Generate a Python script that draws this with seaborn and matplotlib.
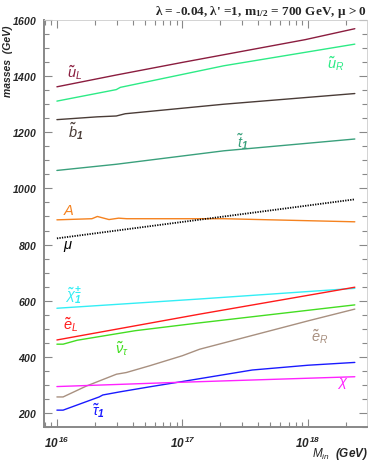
import matplotlib
matplotlib.use("Agg")
import matplotlib.pyplot as plt
import matplotlib.ticker as mticker
import numpy as np
import pandas as pd
import seaborn as sns

# M_in (GeV) and masses (GeV)
m_uL = [1.0e16, 2.97e16, 1.0e17, 9.5e17, 2.36e18]
uL = [1362, 1404, 1449, 1530, 1569]

m_uR = [1.0e16, 2.97e16, 3.2e16, 2.14e17, 2.36e18]
uR = [1311, 1352, 1360, 1437, 1514]

m_b1 = [1.0e16, 2.1e16, 2.97e16, 3.5e16, 2.14e17, 2.36e18]
b1 = [1245, 1255, 1258, 1266, 1300, 1338]

m_t1 = [1.0e16, 2.97e16, 2.14e17, 2.36e18]
t1 = [1064, 1086, 1134, 1176]

m_A = [1.0e16, 1.9e16, 2.1e16, 2.6e16, 3.1e16, 3.6e16, 1.0e17, 2.14e17, 2.36e18]
A = [888, 892, 900, 889, 894, 892, 892, 892, 881]

m_mu = [1.0e16, 2.36e18]
mu = [822, 961]

m_chpm = [1.0e16, 1.37e17, 2.36e18]
chpm = [573, 606, 644]

m_eL = [1.0e16, 1.37e17, 2.36e18]
eL = [460, 552, 648]

m_nu = [1.0e16, 1.12e16, 1.45e16, 4.2e16, 1.37e17, 2.36e18]
nu = [445, 445, 459, 493, 521, 585]

m_eR = [1.0e16, 1.12e16, 1.72e16, 2.98e16, 3.57e16, 5.47e16, 1.0e17, 1.37e17, 1.02e18, 2.36e18]
eR = [257, 257, 296, 338, 344, 368, 404, 427, 529, 570]

m_tau = [1.0e16, 1.12e16, 2.17e16, 2.32e16, 3.16e16, 5.47e16, 1.0e17, 3.6e17, 1.0e18, 2.36e18]
tau = [210, 210, 257, 264, 275, 293, 312, 353, 370, 380]

m_chi = [1.0e16, 7.9e16, 2.36e18]
chi = [294, 308, 329]

curves = [
    (m_uL, uL, "#8b1d3f", r"$\tilde{u}_L$", 1.2e16, 1414),
    (m_uR, uR, "#2deb86", r"$\tilde{u}_R$", 1.42e18, 1446),
    (m_b1, b1, "#4a3c37", r"$\tilde{b}_1$", 1.22e16, 1204),
    (m_t1, t1, "#3aa07c", r"$\tilde{t}_1$", 2.7e17, 1168),
    (m_A, A, "#f5821f", r"$A$", 1.12e16, 918),
    (m_mu, mu, "black", r"$\mu$", 1.12e16, 793),
    (m_chpm, chpm, "#33eef5", r"$\tilde{\chi}^{\pm}_{1}$", 1.15e16, 614),
    (m_eL, eL, "#ff1a1a", r"$\tilde{e}_L$", 1.12e16, 514),
    (m_nu, nu, "#44dd22", r"$\tilde{\nu}_\tau$", 2.9e16, 429),
    (m_eR, eR, "#a89080", r"$\tilde{e}_R$", 1.05e18, 471),
    (m_tau, tau, "#1a1aff", r"$\tilde{\tau}_1$", 1.9e16, 207),
    (m_chi, chi, "#ff22ff", r"$\chi$", 1.7e18, 304),
]

sns.set_style("ticks")
plt.rcParams["font.family"] = ["Liberation Sans", "DejaVu Sans"]
plt.rcParams["mathtext.fontset"] = "custom"
plt.rcParams["mathtext.rm"] = "Liberation Sans:bold:italic"
plt.rcParams["mathtext.it"] = "Liberation Sans:italic"
plt.rcParams["mathtext.bf"] = "Liberation Serif:bold"

fig = plt.figure(figsize=(3.69, 4.63), dpi=100)
ax = fig.add_axes([0.1192, 0.0778, 0.8754, 0.879])

for xs, ys, col, lab, lx, ly in curves:
    df = pd.DataFrame({"M": xs, "mass": ys})
    if lab == r"$\mu$":
        sns.lineplot(data=df, x="M", y="mass", ax=ax, color=col, lw=1.3,
                     linestyle=(0, (0.7, 0.7)), sort=False)
    else:
        sns.lineplot(data=df, x="M", y="mass", ax=ax, color=col, lw=1.0, sort=False)
    ax.text(lx, ly, lab, color=col, fontsize=10.5, ha="left", va="center")

ax.set_xscale("log")
ax.set_xlim(10 ** 15.897, 10 ** 18.47)
ax.set_ylim(150, 1600)

ax.xaxis.set_major_locator(mticker.FixedLocator([1e16, 1e17, 1e18]))
ax.xaxis.set_major_formatter(mticker.FuncFormatter(lambda v, p: r"$10^{\,%d}$" % round(np.log10(v))))
ax.xaxis.set_minor_locator(mticker.LogLocator(base=10, subs=np.arange(2, 10)))
ax.xaxis.set_minor_formatter(mticker.NullFormatter())
ax.yaxis.set_major_locator(mticker.MultipleLocator(200))
ax.yaxis.set_minor_locator(mticker.MultipleLocator(50))
ax.yaxis.set_major_formatter(mticker.FuncFormatter(lambda v, p: r"$%d$" % v if v >= 200 else ""))

ax.tick_params(which="both", direction="in", top=True, right=True, color="#888888",
               labelsize=7.5, width=0.8)
ax.tick_params(which="major", length=6, pad=5)
ax.tick_params(which="minor", length=3.5)
ax.tick_params(axis="x", which="major", labelsize=8.5, pad=6)
for s in ["left", "bottom"]:
    ax.spines[s].set_color("#888888")
    ax.spines[s].set_linewidth(1.4)
for s in ["top", "right"]:
    ax.spines[s].set_color("#cccccc")
    ax.spines[s].set_linewidth(0.6)

ax.set_xlabel("")
ax.set_ylabel("")
fig.text(0.022, 0.944, "masses  (GeV)", rotation=90, ha="center", va="top",
         fontsize=7.5, fontweight="bold", fontstyle="italic")
fig.text(0.998, 0.002, r"$\mathit{M_{in}}$  (GeV)", ha="right", va="bottom",
         fontsize=8.5, fontweight="bold", fontstyle="italic")
fig.text(0.995, 0.992, r"λ = -0.04, λ' =1, $\mathbf{m_{1/2}}$ = 700 GeV, μ > 0",
         ha="right", va="top", fontsize=9.5, fontweight="bold", family="Liberation Serif")

fig.savefig("out.png", dpi=100)
